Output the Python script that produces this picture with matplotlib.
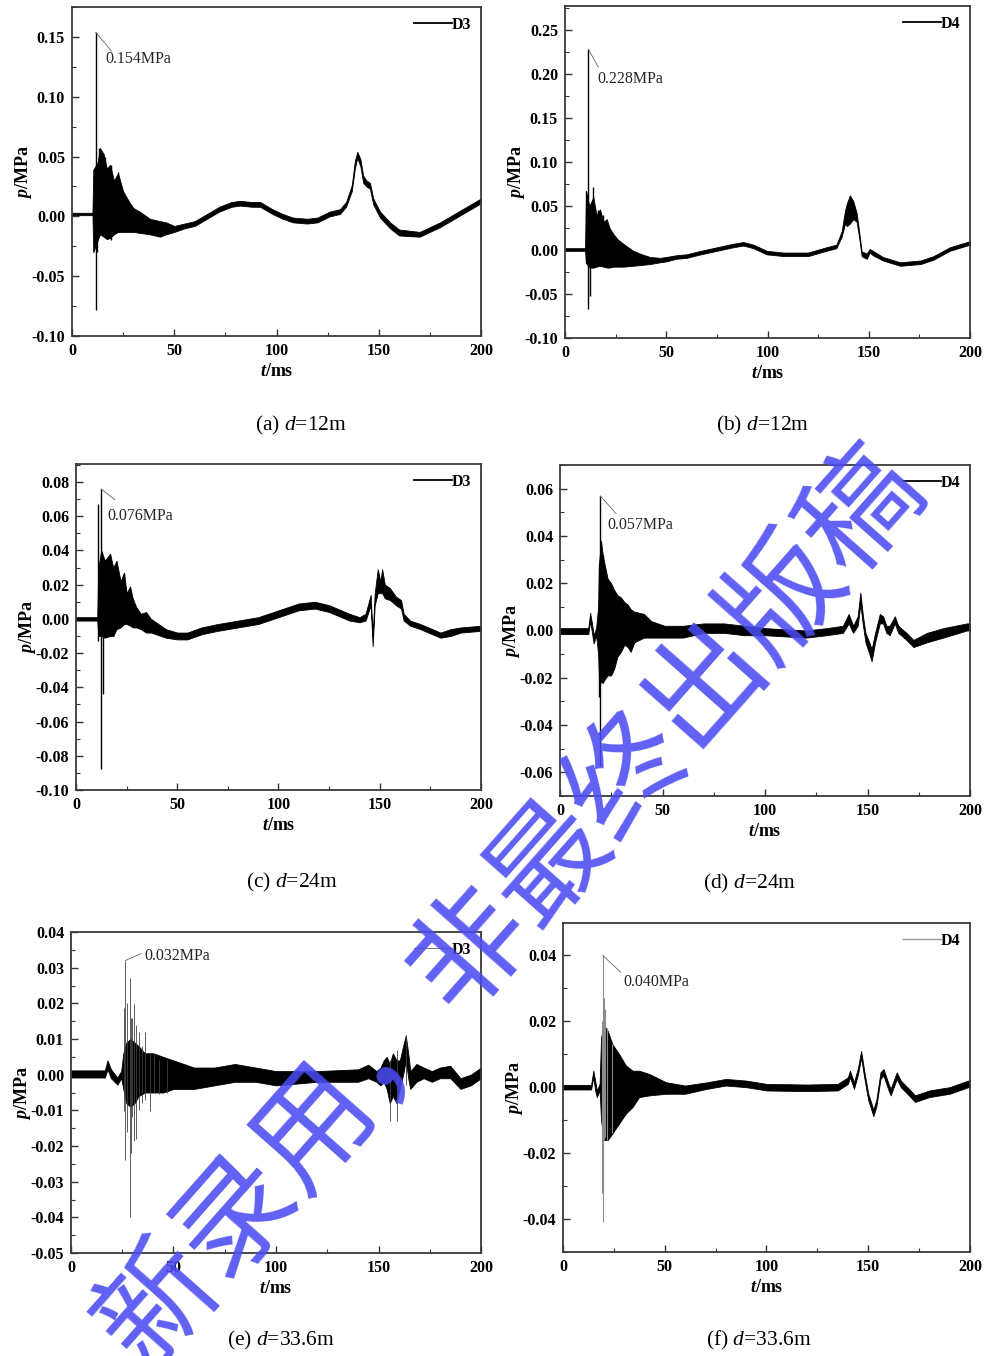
import numpy as np
import matplotlib
matplotlib.use('Agg')
import matplotlib.pyplot as plt
from matplotlib.ticker import MultipleLocator, FuncFormatter

plt.rcParams['font.family'] = ['Liberation Serif']
plt.rcParams['mathtext.fontset'] = 'custom'
plt.rcParams['mathtext.rm'] = 'Liberation Serif'
plt.rcParams['mathtext.it'] = 'Liberation Serif:italic'
plt.rcParams['mathtext.bf'] = 'Liberation Serif:bold'
plt.rcParams['mathtext.bfit'] = 'Liberation Serif:italic:bold'

# ---- (a) D3, d=12m : band knots (time, lower, upper) and single spikes ----
t_a = [0, 10.0, 10.4, 12.5, 13.7, 15.5, 17, 18.6, 20.5, 22.5, 25, 28, 30, 34, 38, 43, 46, 50,
       55, 60, 65, 72, 78, 82, 88, 92, 98, 103, 108, 115, 120, 126, 131, 134, 136.8, 138.3,
       139.5, 141, 142.4, 144, 145.7, 147.3, 150.6, 155.5, 160, 170, 180, 191, 200]
lo_a = [0.001, 0.001, -0.030, -0.020, -0.015, -0.017, -0.019, -0.018, -0.015, -0.013, -0.013,
        -0.013, -0.013, -0.014, -0.015, -0.017, -0.015, -0.013, -0.010, -0.008, -0.003, 0.004,
        0.008, 0.009, 0.008, 0.008, 0.002, -0.002, -0.005, -0.006, -0.005, 0.000, 0.002, 0.008,
        0.021, 0.040, 0.049, 0.042, 0.028, 0.025, 0.023, 0.010, -0.001, -0.010, -0.016, -0.017,
        -0.009, 0.002, 0.011]
hi_a = [0.003, 0.003, 0.039, 0.045, 0.057, 0.052, 0.040, 0.043, 0.030, 0.036, 0.021, 0.012,
        0.007, 0.003, -0.002, -0.004, -0.005, -0.008, -0.006, -0.004, 0.001, 0.008, 0.012, 0.013,
        0.012, 0.012, 0.006, 0.002, -0.001, -0.002, -0.001, 0.004, 0.006, 0.012, 0.026, 0.046,
        0.054, 0.048, 0.034, 0.030, 0.028, 0.015, 0.004, -0.005, -0.011, -0.013, -0.005, 0.006,
        0.015]
spk_t_a = [11.5, 12.1, 13.0, 14.2, 16.2, 18.9, 22.7]
spk_lo_a = [-0.078, -0.030, -0.012, -0.015, -0.017, -0.020, -0.012]
spk_hi_a = [0.154, 0.040, 0.057, 0.055, 0.050, 0.043, 0.037]

# ---- (b) D4, d=12m ----
t_b = [0, 9.9, 10.4, 12, 14, 15.5, 17.3, 19, 20.6, 22, 23.9, 26, 28.8, 33.7, 38, 42, 47, 50, 55,
       60, 67, 75, 83, 88, 93, 99.6, 108, 120, 129, 134, 136.6, 138.3, 139.2, 140.7, 142.4, 144,
       145.2, 146.5, 148, 149, 150.5, 152, 157, 165.5, 175.6, 182, 190, 200]
lo_b = [-0.001, -0.001, -0.015, -0.020, -0.020, -0.019, -0.018, -0.019, -0.020, -0.020, -0.019,
        -0.019, -0.019, -0.018, -0.017, -0.016, -0.014, -0.013, -0.010, -0.009, -0.005, -0.001,
        0.003, 0.005, 0.002, -0.005, -0.007, -0.007, -0.001, 0.002, 0.015, 0.030, 0.027, 0.030,
        0.035, 0.032, 0.015, -0.007, -0.009, -0.010, -0.003, -0.006, -0.012, -0.018, -0.016,
        -0.011, -0.001, 0.006]
hi_b = [0.002, 0.002, 0.067, 0.050, 0.060, 0.040, 0.046, 0.032, 0.035, 0.025, 0.018, 0.012,
        0.007, -0.001, -0.005, -0.008, -0.009, -0.008, -0.006, -0.005, -0.001, 0.003, 0.007,
        0.009, 0.006, -0.001, -0.003, -0.003, 0.003, 0.006, 0.021, 0.045, 0.053, 0.062, 0.055,
        0.042, 0.022, -0.002, -0.003, -0.004, 0.001, -0.001, -0.008, -0.014, -0.012, -0.007,
        0.003, 0.010]
spk_t_b = [11.5, 10.6, 12.4, 13.9, 16.5, 18.7]
spk_lo_b = [-0.067, -0.015, -0.052, -0.020, -0.018, -0.012]
spk_hi_b = [0.228, 0.067, 0.040, 0.072, 0.045, 0.040]

# ---- (c) D3, d=24m ----
t_c = [0, 10.5, 11, 12.5, 14.2, 16.8, 18.4, 20, 22, 23.7, 25, 26.7, 28, 29.7, 32, 34.6, 37, 39.5,
       44.4, 50, 55, 62, 70, 80, 90, 100, 110, 118, 125, 135, 140, 143, 145.5, 146.5, 147.5, 149,
       150.3, 151.2, 152.5, 155, 158, 160.5, 161.8, 165, 170, 180, 185, 190, 200]
lo_c = [-0.001, -0.001, -0.010, -0.010, -0.011, -0.010, -0.010, -0.006, -0.005, -0.003, -0.003,
        -0.004, -0.005, -0.005, -0.006, -0.008, -0.008, -0.009, -0.011, -0.012, -0.012, -0.009,
        -0.007, -0.005, -0.003, 0.001, 0.005, 0.006, 0.004, -0.001, -0.002, -0.001, 0.008, -0.016,
        0.008, 0.015, 0.015, 0.015, 0.012, 0.011, 0.008, 0.006, -0.001, -0.004, -0.006, -0.011,
        -0.010, -0.008, -0.007]
hi_c = [0.001, 0.001, 0.030, 0.040, 0.034, 0.038, 0.030, 0.034, 0.022, 0.027, 0.015, 0.019,
        0.012, 0.007, 0.003, 0.004, 0.000, -0.002, -0.006, -0.008, -0.008, -0.005, -0.003, -0.001,
        0.001, 0.005, 0.009, 0.010, 0.008, 0.003, 0.001, 0.003, 0.014, -0.010, 0.015, 0.029,
        0.022, 0.029, 0.020, 0.018, 0.013, 0.011, 0.003, -0.001, -0.003, -0.008, -0.006, -0.005,
        -0.004]
spk_t_c = [12.3, 10.8, 13.1, 16.8, 18.4, 23.7]
spk_lo_c = [-0.088, -0.013, -0.044, -0.010, -0.010, -0.003]
spk_hi_c = [0.076, 0.067, 0.030, 0.038, 0.030, 0.027]

# ---- (d) D4, d=24m ----
t_d = [0, 13.8, 14.7, 15.6, 16.4, 17.6, 18.6, 19, 20, 20.8, 23.2, 24.9, 26.5, 28, 29.7, 31.4, 33,
       34.5, 36.2, 41, 44.4, 51, 60, 70, 80, 90, 100, 120, 130, 138, 140.8, 143, 145.2, 146.5,
       147.8, 149, 151.3, 152, 153.7, 156, 157.6, 159.2, 160.8, 163.3, 165, 169, 172.4, 179,
       187, 198.4, 200]
lo_d = [-0.0015, -0.0015, 0.004, -0.001, -0.0055, -0.002, -0.010, -0.020, -0.022, -0.022,
        -0.019, -0.019, -0.016, -0.011, -0.009, -0.006, -0.007, -0.009, -0.005, -0.003, -0.003,
        -0.003, -0.003, -0.001, -0.001, -0.002, -0.002, -0.003, -0.002, -0.001, 0.003, -0.001,
        0.002, 0.011, 0.002, -0.005, -0.011, -0.013, -0.005, 0.003, 0.003, -0.001, -0.002, 0.003,
        -0.001, -0.004, -0.007, -0.005, -0.003, 0.000, 0.000]
hi_d = [0.001, 0.001, 0.0075, 0.003, -0.002, 0.001, 0.010, 0.028, 0.038, 0.032, 0.022, 0.020,
        0.017, 0.015, 0.014, 0.012, 0.011, 0.009, 0.008, 0.007, 0.004, 0.002, 0.002, 0.003, 0.003,
        0.002, 0.001, 0.000, 0.001, 0.002, 0.007, 0.002, 0.006, 0.016, 0.006, -0.001, -0.006,
        -0.008, -0.001, 0.007, 0.006, 0.002, 0.002, 0.006, 0.002, -0.001, -0.004, -0.001, 0.001,
        0.003, 0.003]
spk_t_d = [19.6, 18.9, 20.3, 21.2]
spk_lo_d = [-0.0575, -0.028, -0.020, -0.022]
spk_hi_d = [0.057, 0.028, 0.033, 0.032]

# ---- (e) D3, d=33.6m ----
t_e = [0, 16.5, 17.8, 19.5, 22.6, 24.5, 25.5, 27, 29, 31, 33, 36, 40, 45, 50, 55, 60, 70, 80, 90,
       100, 120, 140, 145, 149, 151, 152.5, 154, 155.5, 157, 158.8, 160.4, 162, 163.3, 164.5,
       165.5, 168.5, 172, 176, 180, 185, 190, 195, 200]
lo_e = [-0.0008, -0.0008, 0.0015, -0.001, -0.0028, -0.001, -0.004, -0.008, -0.009, -0.008,
        -0.006, -0.005, -0.005, -0.005, -0.004, -0.004, -0.004, -0.003, -0.002, -0.002, -0.003,
        -0.002, -0.002, -0.001, -0.002, -0.003, -0.002, -0.004, -0.008, -0.006, -0.008, -0.004,
        0.000, 0.004, -0.001, -0.004, -0.002, -0.001, -0.002, -0.001, -0.001, -0.004, -0.003,
        -0.001]
hi_e = [0.0012, 0.0012, 0.004, 0.0015, -0.0008, 0.001, 0.006, 0.009, 0.010, 0.009, 0.008, 0.006,
        0.006, 0.005, 0.004, 0.003, 0.002, 0.002, 0.003, 0.002, 0.001, 0.001, 0.0015, 0.0028,
        0.001, 0.002, 0.004, 0.005, 0.003, 0.006, 0.004, 0.004, 0.008, 0.011, 0.006, 0.001, 0.003,
        0.002, 0.001, 0.002, 0.0025, -0.001, 0.000, 0.002]
spk_t_e = [26.5, 25.9, 27.2, 28.6, 29.3, 29.9, 30.8, 31.6, 33.2, 34.5, 36.0, 38.6, 40.5, 43.0,
           47.0, 155.5, 158.8, 163.3]
spk_lo_e = [-0.024, -0.0103, -0.016, -0.040, -0.022, -0.012, -0.0187, -0.018, -0.010, -0.008,
            -0.007, -0.0103, -0.005, -0.0053, -0.005, -0.013, -0.013, -0.003]
spk_hi_e = [0.032, 0.0187, 0.020, 0.027, 0.016, 0.016, 0.0197, 0.014, 0.012, 0.008, 0.012,
            0.006, 0.006, 0.004, 0.004, 0.004, 0.007, 0.011]

# ---- (f) D4, d=33.6m ----
t_f = [0, 13.8, 14.9, 15.8, 16.6, 18, 18.7, 20, 22, 24.3, 27.6, 30.9, 34.2, 37.4, 42.4, 50.6, 60,
       70, 80, 90, 100, 120, 135, 140, 141, 143, 145, 146.5, 148, 150, 151, 152.5, 154, 156,
       157.5, 160, 161, 164, 166, 170, 173, 180, 190, 200]
lo_f = [-0.0007, -0.0007, 0.003, -0.001, -0.003, -0.001, -0.010, -0.016, -0.016, -0.014, -0.011,
        -0.008, -0.006, -0.003, -0.0025, -0.002, -0.002, -0.0006, 0.0005, 0.000, -0.001, -0.0012,
        -0.001, 0.001, 0.003, -0.0005, 0.004, 0.009, 0.003, -0.004, -0.0058, -0.0088, -0.0058,
        0.0025, 0.0035, -0.001, -0.0025, 0.0025, 0.000, -0.0025, -0.0045, -0.003, -0.002, 0.0002]
hi_f = [0.0007, 0.0007, 0.005, 0.002, -0.001, 0.001, 0.015, 0.019, 0.017, 0.013, 0.010, 0.0066,
        0.005, 0.005, 0.004, 0.0015, 0.0005, 0.0014, 0.0025, 0.002, 0.001, 0.0008, 0.001, 0.003,
        0.005, 0.0015, 0.006, 0.011, 0.005, -0.002, -0.0038, -0.0068, -0.0038, 0.0045, 0.0055,
        0.001, -0.0005, 0.0045, 0.002, -0.0005, -0.0025, -0.001, 0.000, 0.0022]
spk_t_f = [19.5, 19.0, 20.1, 20.6, 21.5, 24.3]
spk_lo_f = [-0.041, -0.032, -0.016, -0.015, -0.016, -0.014]
spk_hi_f = [0.040, 0.020, 0.027, 0.0237, 0.018, 0.013]

panels = [
    ('a', 'D3', '12m', t_a, lo_a, hi_a, spk_t_a, spk_lo_a, spk_hi_a),
    ('b', 'D4', '12m', t_b, lo_b, hi_b, spk_t_b, spk_lo_b, spk_hi_b),
    ('c', 'D3', '24m', t_c, lo_c, hi_c, spk_t_c, spk_lo_c, spk_hi_c),
    ('d', 'D4', '24m', t_d, lo_d, hi_d, spk_t_d, spk_lo_d, spk_hi_d),
    ('e', 'D3', '33.6m', t_e, lo_e, hi_e, spk_t_e, spk_lo_e, spk_hi_e),
    ('f', 'D4', '33.6m', t_f, lo_f, hi_f, spk_t_f, spk_lo_f, spk_hi_f),
]

# layout in pixels: left, right, top, bottom of each axes box
W, H = 987, 1356
boxes = [(72, 481, 7, 336), (565, 970, 6, 338), (76, 481, 464, 790),
         (560, 970, 465, 796), (71, 481, 932, 1253), (563, 970, 923, 1252)]
ylims = [(-0.10, 0.175), (-0.10, 0.277), (-0.10, 0.0905), (-0.070, 0.070),
         (-0.05, 0.04), (-0.05, 0.0498)]
ysteps = [(0.05, 0.025), (0.05, 0.025), (0.02, 0.01), (0.02, 0.01), (0.01, 0.005), (0.02, 0.01)]
captions = [(301, 425), (763, 425), (292, 882), (750, 883), (281, 1340), (759, 1340)]
# leader end and label anchor, pixel offsets from the peak
leads = [((16, -19), (10, -27)), ((10, -18), (9, -30)), ((14, -11), (6, -27)),
         ((16, -18), (7, -29)), ((16, 7), (19, 5)), ((18, -17), (21, -27))]
spike_style = [('k', 1.0), ('k', 1.0), ('k', 1.0), ('k', 1.0), ('0.25', 0.6), ('0.55', 0.8)]
legend_style = [('k', 1.3), ('k', 1.3), ('k', 1.3), ('k', 1.3), ('0.45', 0.7), ('0.6', 1.0)]


def two_dec(v, pos):
    s = f'{v:.2f}'
    return '0.00' if s == '-0.00' else s


fig = plt.figure(figsize=(W / 100, H / 100), dpi=100)

for i, (tag, probe, dist, t, lo, hi, st, slo, shi) in enumerate(panels):
    l, r, tp, bt = boxes[i]
    ax = fig.add_axes([l / W, 1 - bt / H, (r - l) / W, (bt - tp) / H])

    ax.fill_between(t, lo, hi, color='k', lw=0.6, zorder=2)
    sc, slw = spike_style[i]
    ax.vlines(st, slo, shi, colors=sc, lw=slw, zorder=3)
    lc, llw = legend_style[i]
    ax.plot([], [], color=lc, lw=llw, label=probe)

    # peak marker text
    k = int(np.argmax(shi))
    pk_t, pk = st[k], shi[k]
    (lx, ly), (tx, ty) = leads[i]
    ax.annotate('', xy=(pk_t, pk), xytext=(lx, ly), textcoords='offset pixels',
                arrowprops=dict(arrowstyle='-', color='0.4', lw=0.6, shrinkA=0, shrinkB=0))
    ax.annotate(f'{pk:.3f}MPa', xy=(pk_t, pk), xytext=(tx, ty), textcoords='offset pixels',
                ha='left', va='center', fontsize=11.5, color='0.15')

    ax.set_xlim(0, 200)
    ax.set_ylim(*ylims[i])
    ax.xaxis.set_major_locator(MultipleLocator(50))
    ax.xaxis.set_minor_locator(MultipleLocator(25))
    ax.yaxis.set_major_locator(MultipleLocator(ysteps[i][0]))
    ax.yaxis.set_minor_locator(MultipleLocator(ysteps[i][1]))
    ax.yaxis.set_major_formatter(FuncFormatter(two_dec))
    ax.tick_params(which='both', direction='in', top=False, right=False,
                   labelsize=11.5, colors='#333333', labelcolor='k')
    ax.tick_params(which='major', length=5, width=1.0, pad=5)
    ax.tick_params(which='minor', length=3, width=0.8)
    for lab in ax.get_xticklabels() + ax.get_yticklabels():
        lab.set_fontweight('bold')
    for sp in ax.spines.values():
        sp.set_color('#3a3a3a')
        sp.set_linewidth(1.3)

    ax.set_xlabel(r'$\mathbfit{t}$/ms', fontsize=13, fontweight='bold', labelpad=3)
    ax.set_ylabel(r'$\mathbfit{p}$/MPa', fontsize=13, fontweight='bold', labelpad=-2)

    ax.legend(loc='upper right', frameon=False, handlelength=2.4, handletextpad=0.0,
              borderaxespad=0.2, prop={'weight': 'bold', 'size': 11.5})

    cx, cy = captions[i]
    fig.text(cx / W, 1 - cy / H, f'({tag}) $\\mathit{{d}}$={dist}', ha='center', va='center',
             fontsize=15.5)

# overlay stamp
fig.text(512 / W, 1 - 908 / H, '新录用，非最终出版稿', rotation=48.5, rotation_mode='anchor',
         ha='center', va='center', fontsize=85, color='#4a4af2', alpha=0.88, fontweight='light',
         family=['Noto Sans CJK SC', 'DejaVu Sans'], zorder=100)

fig.savefig('out.png', dpi=100, facecolor='white')
